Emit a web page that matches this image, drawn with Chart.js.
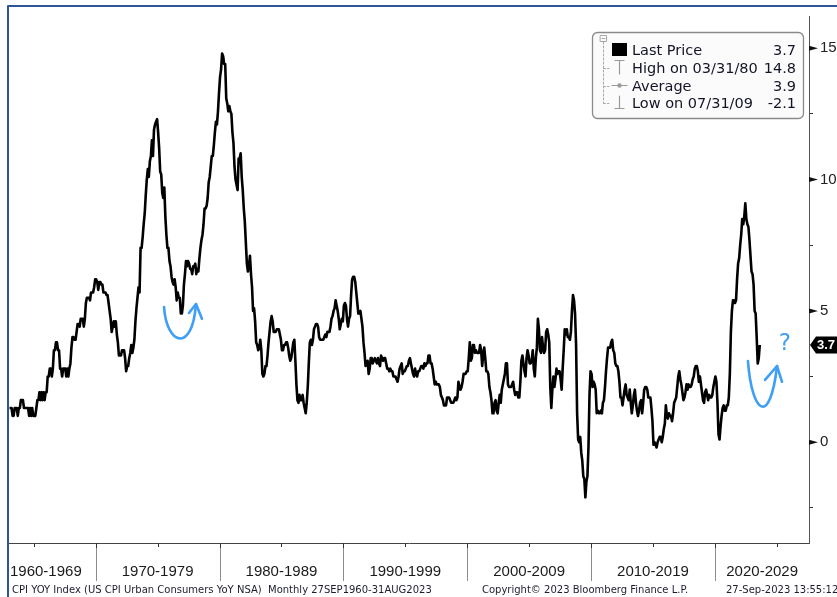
<!DOCTYPE html>
<html>
<head>
<meta charset="utf-8">
<script src="https://cdn.jsdelivr.net/npm/chart.js@4.4.0/dist/chart.umd.min.js"></script>
<style>
  body { margin: 0; background: #fff; }
  canvas { display: block; }
</style>
</head>
<body>
<canvas id="myChart" width="837" height="597"></canvas>
<script>
// US CPI YoY (NSA), monthly - visible window starts Jan 1963
var startYear = 1963;

var cpi1960s = [
  1.3, 1.3, 1.3, 1.0, 1.0, 1.3, 1.3, 1.3, 1.0, 1.3, 1.3, 1.6,
  1.6, 1.6, 1.3, 1.3, 1.3, 1.3, 1.3, 1.0, 1.3, 1.0, 1.3, 1.0,
  1.0, 1.0, 1.3, 1.6, 1.6, 1.9, 1.6, 1.9, 1.6, 1.9, 1.6, 1.9,
  1.9, 2.5, 2.5, 2.8, 2.8, 2.5, 2.8, 3.5, 3.5, 3.8, 3.8, 3.5,
  3.5, 2.8, 2.8, 2.5, 2.8, 2.8, 2.8, 2.5, 2.8, 2.5, 2.8, 3.0,
  3.6, 4.0, 4.0, 3.9, 3.9, 4.2, 4.5, 4.5, 4.4, 4.7, 4.7, 4.7,
  4.4, 4.7, 5.3, 5.5, 5.5, 5.5, 5.4, 5.7, 5.7, 5.7, 5.9, 6.2
];
var cpi1970s = [
  6.2, 6.1, 5.8, 6.1, 6.1, 6.0, 6.0, 5.7, 5.7, 5.7, 5.6, 5.6,
  5.3, 5.0, 4.7, 4.2, 4.4, 4.6, 4.4, 4.6, 4.1, 3.8, 3.3, 3.3,
  3.3, 3.5, 3.5, 3.5, 3.2, 2.7, 2.9, 2.9, 3.2, 3.4, 3.7, 3.4,
  3.6, 3.9, 4.6, 5.1, 5.5, 5.9, 5.7, 7.4, 7.4, 7.8, 8.3, 8.7,
  9.4, 10.0, 10.4, 10.1, 10.7, 10.9, 11.5, 10.9, 11.9, 12.1, 12.2, 12.3,
  11.8, 11.2, 10.3, 10.2, 9.5, 9.3, 9.7, 8.6, 7.9, 7.4, 7.4, 6.9,
  6.7, 6.3, 6.1, 6.0, 6.2, 5.9, 5.4, 5.7, 5.5, 5.5, 4.9, 4.9,
  5.2, 6.0, 6.4, 6.9, 6.7, 6.9, 6.8, 6.6, 6.6, 6.4, 6.7, 6.7,
  6.8, 6.4, 6.6, 6.5, 7.0, 7.4, 7.7, 7.9, 8.3, 8.9, 8.9, 9.0,
  9.3, 9.9, 10.1, 10.5, 10.9, 10.9, 11.3, 11.8, 12.2, 12.1, 12.6, 13.3
];
var cpi1980s = [
  13.9, 14.2, 14.8, 14.7, 14.4, 14.4, 13.1, 12.9, 12.6, 12.8, 12.6, 12.5,
  11.8, 11.4, 10.5, 10.0, 9.8, 9.6, 10.8, 10.8, 11.0, 10.1, 9.6, 8.9,
  8.4, 7.6, 6.8, 6.5, 6.7, 7.1, 6.4, 5.9, 5.0, 5.1, 4.6, 3.8,
  3.7, 3.5, 3.6, 3.9, 3.5, 2.6, 2.5, 2.6, 2.9, 2.9, 3.3, 3.8,
  4.2, 4.6, 4.8, 4.6, 4.2, 4.2, 4.2, 4.3, 4.3, 4.3, 4.1, 3.9,
  3.5, 3.5, 3.7, 3.7, 3.8, 3.8, 3.6, 3.3, 3.1, 3.2, 3.5, 3.8,
  3.9, 3.1, 2.2, 1.6, 1.5, 1.8, 1.6, 1.6, 1.8, 1.5, 1.3, 1.1,
  1.5, 2.1, 3.0, 3.8, 3.9, 3.7, 3.9, 4.3, 4.4, 4.5, 4.5, 4.4,
  4.0, 3.9, 3.9, 3.9, 3.9, 4.0, 4.1, 4.0, 4.2, 4.2, 4.2, 4.4,
  4.7, 4.8, 5.0, 5.1, 5.4, 5.2, 5.0, 4.7, 4.3, 4.5, 4.7, 4.6
];
var cpi1990s = [
  5.2, 5.3, 5.2, 4.7, 4.4, 4.7, 4.8, 5.6, 6.2, 6.3, 6.3, 6.1,
  5.7, 5.3, 4.9, 4.9, 5.0, 4.7, 4.4, 3.8, 3.4, 2.9, 3.0, 3.1,
  2.6, 2.8, 3.2, 3.2, 3.0, 3.1, 3.2, 3.1, 3.0, 3.2, 3.0, 2.9,
  3.3, 3.2, 3.1, 3.2, 3.2, 3.0, 2.8, 2.8, 2.7, 2.8, 2.7, 2.7,
  2.5, 2.5, 2.5, 2.4, 2.3, 2.5, 2.8, 2.9, 3.0, 2.6, 2.7, 2.7,
  2.8, 2.9, 2.9, 3.1, 3.2, 3.0, 2.8, 2.6, 2.5, 2.8, 2.6, 2.5,
  2.7, 2.7, 2.8, 2.9, 2.9, 2.8, 3.0, 2.9, 3.0, 3.0, 3.3, 3.3,
  3.0, 3.0, 2.8, 2.5, 2.2, 2.3, 2.2, 2.2, 2.2, 2.1, 1.8, 1.7,
  1.6, 1.4, 1.4, 1.4, 1.7, 1.7, 1.7, 1.6, 1.5, 1.5, 1.5, 1.6,
  1.7, 1.6, 1.7, 2.3, 2.1, 2.0, 2.1, 2.3, 2.6, 2.6, 2.6, 2.7
];
var cpi2000s = [
  2.7, 3.2, 3.8, 3.1, 3.2, 3.7, 3.7, 3.4, 3.5, 3.4, 3.4, 3.4,
  3.7, 3.5, 2.9, 3.3, 3.6, 3.2, 2.7, 2.7, 2.6, 2.1, 1.9, 1.6,
  1.1, 1.1, 1.5, 1.6, 1.2, 1.1, 1.5, 1.8, 1.5, 2.0, 2.2, 2.4,
  2.6, 3.0, 3.0, 2.2, 2.1, 2.1, 2.1, 2.2, 2.3, 2.0, 1.8, 1.9,
  1.9, 1.7, 1.7, 2.3, 3.1, 3.3, 3.0, 2.7, 2.5, 3.2, 3.5, 3.3,
  3.0, 3.0, 3.1, 3.5, 2.8, 2.5, 3.2, 3.6, 4.7, 4.3, 3.5, 3.4,
  4.0, 3.6, 3.4, 3.5, 4.2, 4.3, 4.1, 3.8, 2.1, 1.3, 2.0, 2.5,
  2.1, 2.4, 2.8, 2.6, 2.7, 2.7, 2.4, 2.0, 2.8, 3.5, 4.3, 4.1,
  4.3, 4.0, 4.0, 3.9, 4.2, 5.0, 5.6, 5.4, 4.9, 3.7, 1.1, 0.1,
  0.0, 0.2, -0.4, -0.7, -1.3, -1.4, -2.1, -1.5, -1.3, -0.2, 1.8, 2.7
];
var cpi2010s = [
  2.6, 2.1, 2.3, 2.2, 2.0, 1.1, 1.2, 1.1, 1.1, 1.2, 1.1, 1.5,
  1.6, 2.1, 2.7, 3.2, 3.6, 3.6, 3.6, 3.8, 3.9, 3.5, 3.4, 3.0,
  2.9, 2.9, 2.7, 2.3, 1.7, 1.7, 1.4, 1.7, 2.0, 2.2, 1.8, 1.7,
  1.6, 2.0, 1.5, 1.1, 1.4, 1.8, 2.0, 1.5, 1.2, 1.0, 1.2, 1.5,
  1.6, 1.1, 1.5, 2.0, 2.1, 2.1, 2.0, 1.7, 1.7, 1.7, 1.3, 0.8,
  -0.1, 0.0, -0.1, -0.2, 0.0, 0.1, 0.2, 0.2, 0.0, 0.2, 0.5, 0.7,
  1.4, 1.0, 0.9, 1.1, 1.0, 1.0, 0.8, 1.1, 1.5, 1.6, 1.7, 2.1,
  2.5, 2.7, 2.4, 2.2, 1.9, 1.6, 1.7, 1.9, 2.2, 2.0, 2.2, 2.1,
  2.1, 2.2, 2.4, 2.5, 2.8, 2.9, 2.9, 2.7, 2.3, 2.5, 2.2, 1.9,
  1.6, 1.5, 1.9, 2.0, 1.8, 1.6, 1.8, 1.7, 1.7, 1.8, 2.1, 2.3
];
var cpi2020s = [
  2.5, 2.3, 1.5, 0.3, 0.1, 0.6, 1.0, 1.3, 1.4, 1.2, 1.2, 1.4,
  1.4, 1.7, 2.6, 4.2, 5.0, 5.4, 5.4, 5.3, 5.4, 6.2, 6.8, 7.0,
  7.5, 7.9, 8.5, 8.3, 8.6, 9.1, 8.5, 8.3, 8.2, 7.7, 7.1, 6.5,
  6.4, 6.0, 5.0, 4.9, 4.0, 3.0, 3.2, 3.7
];

var decadeStarts = [1960, 1970, 1980, 1990, 2000, 2010, 2020];
var decadeLabels = ['1960-1969', '1970-1979', '1980-1989', '1990-1999', '2000-2009', '2010-2019', '2020-2029'];
var yTickValues = [-2.5, 0, 2.5, 5, 7.5, 10, 12.5, 15];

var legendNames = ['Last Price', 'High on 03/31/80', 'Average', 'Low on 07/31/09'];
var legendValues = ['3.7', '14.8', '3.9', '-2.1'];

var footerLeft = 'CPI YOY Index (US CPI Urban Consumers YoY NSA)  Monthly 27SEP1960-31AUG2023';
var footerMid = 'Copyright\u00a9 2023 Bloomberg Finance L.P.';
var footerRight = '27-Sep-2023 13:55:12';

// hand drawn "rebound?" arrows, in (year, value) units
var arrow1 = { start: [1975.52, 5.15], c1: [1975.68, 3.76], c2: [1977.78, 3.31], tip: [1978.10, 5.26], barbs: [[1977.53, 4.92], [1978.58, 4.70]] };
var arrow2 = { start: [2022.67, 3.09], c1: [2023.00, 1.06], c2: [2024.45, 0.58], tip: [2025.02, 2.90], barbs: [[2024.05, 2.37], [2025.42, 2.30]] };
var questionMark = [2025.66, 3.72];

var cpi = [].concat(cpi1960s, cpi1970s, cpi1980s, cpi1990s, cpi2000s, cpi2010s, cpi2020s);
var points = cpi.map(function (v, i) {
  return { x: startYear + (i + 0.5) / 12, y: v };
});

var sans = '"DejaVu Sans", Verdana, sans-serif';
var arial = '"Liberation Sans", Arial, sans-serif';
var blue = '#3f9ef5';

var decorations = {
  id: 'decorations',
  afterDraw: function (chart) {
    var ctx = chart.ctx;
    var area = chart.chartArea;
    var x = chart.scales.x;
    var y = chart.scales.y;
    ctx.save();

    // decade separators, 5y minor ticks and labels
    ctx.font = '15px ' + arial;
    ctx.textAlign = 'center';
    ctx.textBaseline = 'middle';
    decadeStarts.forEach(function (d, i) {
      if (d >= x.min) {
        var px = Math.round(x.getPixelForValue(d)) + 0.5;
        ctx.strokeStyle = '#8c8c8c';
        ctx.lineWidth = 1;
        ctx.beginPath(); ctx.moveTo(px, area.bottom); ctx.lineTo(px, 581); ctx.stroke();
        ctx.strokeStyle = '#333';
        ctx.beginPath(); ctx.moveTo(px, area.bottom); ctx.lineTo(px, area.bottom + 5); ctx.stroke();
      }
      if (d + 5 > x.min && d + 5 < x.max) {
        var pm = Math.round(x.getPixelForValue(d + 5)) + 0.5;
        ctx.strokeStyle = '#333';
        ctx.beginPath(); ctx.moveTo(pm, area.bottom); ctx.lineTo(pm, area.bottom + 4); ctx.stroke();
      }
      // centred on the decade, kept inside the plot edges
      var w = ctx.measureText(decadeLabels[i]).width;
      var cx = x.getPixelForValue(d + 5);
      cx = Math.max(cx, area.left + 1 + w / 2);
      cx = Math.min(cx, area.right - 11 - w / 2);
      ctx.fillStyle = '#1a1a1a';
      ctx.fillText(decadeLabels[i], cx, 572);
    });

    // major y ticks as small arrowheads
    ctx.fillStyle = '#111';
    [0, 5, 10, 15].forEach(function (v) {
      var py = y.getPixelForValue(v);
      ctx.beginPath();
      ctx.moveTo(area.right, py - 2.5);
      ctx.lineTo(area.right + 9, py);
      ctx.lineTo(area.right, py + 2.5);
      ctx.closePath();
      ctx.fill();
    });

    // last price tag
    var last = cpi[cpi.length - 1];
    var ly = y.getPixelForValue(last);
    ctx.fillStyle = '#000';
    ctx.beginPath();
    ctx.moveTo(area.right + 1, ly);
    ctx.lineTo(area.right + 7, ly - 8.5);
    ctx.lineTo(837, ly - 8.5);
    ctx.lineTo(837, ly + 8.5);
    ctx.lineTo(area.right + 7, ly + 8.5);
    ctx.closePath();
    ctx.fill();
    ctx.fillStyle = '#fff';
    ctx.font = 'bold 13px ' + arial;
    ctx.textAlign = 'left';
    ctx.fillText(last.toFixed(1), area.right + 8, ly + 0.5);

    // blue arrows
    ctx.strokeStyle = blue;
    ctx.lineWidth = 2.6;
    ctx.lineCap = 'round';
    ctx.lineJoin = 'round';
    [arrow1, arrow2].forEach(function (ar) {
      function P(p) { return [x.getPixelForValue(p[0]), y.getPixelForValue(p[1])]; }
      var s = P(ar.start), c1 = P(ar.c1), c2 = P(ar.c2), t = P(ar.tip);
      ctx.beginPath();
      ctx.moveTo(s[0], s[1]);
      ctx.bezierCurveTo(c1[0], c1[1], c2[0], c2[1], t[0], t[1]);
      ctx.stroke();
      var b1 = P(ar.barbs[0]), b2 = P(ar.barbs[1]);
      ctx.beginPath();
      ctx.moveTo(b1[0], b1[1]);
      ctx.lineTo(t[0], t[1]);
      ctx.lineTo(b2[0], b2[1]);
      ctx.stroke();
    });
    ctx.fillStyle = blue;
    ctx.font = '23px ' + sans;
    ctx.textAlign = 'center';
    ctx.fillText('?', x.getPixelForValue(questionMark[0]), y.getPixelForValue(questionMark[1]));

    // legend box
    ctx.beginPath();
    ctx.roundRect(592.5, 32.5, 211, 86, 5);
    ctx.fillStyle = '#fbfbfb';
    ctx.fill();
    ctx.strokeStyle = '#8a8a8a';
    ctx.lineWidth = 1.3;
    ctx.stroke();

    var rows = [50, 68, 86, 103];
    ctx.lineWidth = 1;
    ctx.strokeStyle = '#a8a8a8';
    ctx.strokeRect(600.5, 35.5, 6, 6);
    ctx.beginPath(); ctx.moveTo(602, 38.5); ctx.lineTo(605, 38.5); ctx.stroke();
    ctx.setLineDash([2, 2]);
    ctx.beginPath();
    ctx.moveTo(603.5, 42); ctx.lineTo(603.5, rows[3]);
    for (var r = 1; r < 4; r++) { ctx.moveTo(603.5, rows[r] + 0.5); ctx.lineTo(609, rows[r] + 0.5); }
    ctx.stroke();
    ctx.setLineDash([]);

    ctx.fillStyle = '#000';
    ctx.fillRect(612, 43, 15, 13);
    ctx.strokeStyle = '#9a9a9a';
    ctx.lineWidth = 1.2;
    ctx.beginPath();
    ctx.moveTo(615, 60.5); ctx.lineTo(624, 60.5);
    ctx.moveTo(619.5, 60.5); ctx.lineTo(619.5, 74);
    ctx.moveTo(612, 85.5); ctx.lineTo(627, 85.5);
    ctx.moveTo(619.5, 96); ctx.lineTo(619.5, 108.5);
    ctx.moveTo(615, 108.5); ctx.lineTo(624, 108.5);
    ctx.stroke();
    ctx.fillStyle = '#9a9a9a';
    ctx.beginPath(); ctx.arc(619.5, 85.5, 2.2, 0, Math.PI * 2); ctx.fill();

    ctx.font = '14.5px ' + sans;
    ctx.fillStyle = '#141428';
    ctx.textBaseline = 'middle';
    legendNames.forEach(function (name, i) {
      ctx.textAlign = 'left';
      ctx.fillText(name, 632, rows[i] + 1);
      ctx.textAlign = 'right';
      ctx.fillText(legendValues[i], 796, rows[i] + 1);
    });

    // footer
    ctx.font = '10px ' + sans;
    ctx.fillStyle = '#1c1c30';
    ctx.textAlign = 'left';
    ctx.fillText(footerLeft, 12, 590);
    ctx.fillText(footerMid, 482, 590);
    ctx.fillText(footerRight, 726, 590);

    // blue frame
    ctx.strokeStyle = '#2f5597';
    ctx.lineWidth = 2;
    ctx.beginPath();
    ctx.moveTo(8, 597); ctx.lineTo(8, 6); ctx.lineTo(837, 6);
    ctx.stroke();

    ctx.restore();
  }
};

var ctx = document.getElementById('myChart').getContext('2d');
var myChart = new Chart(ctx, {
  type: 'line',
  data: {
    datasets: [{
      label: 'CPI YOY Index',
      data: points,
      borderColor: '#000',
      borderWidth: 2.6,
      pointRadius: 0,
      tension: 0,
      borderJoinStyle: 'round'
    }]
  },
  options: {
    responsive: false,
    animation: false,
    layout: { padding: { left: 9, top: 7, right: 0, bottom: 0 } },
    plugins: {
      legend: { display: false },
      tooltip: { enabled: false }
    },
    scales: {
      x: {
        type: 'linear',
        min: 1963,
        max: 2027.6,
        ticks: { display: false },
        grid: { display: false },
        border: { display: true, color: '#444', width: 1 },
        afterFit: function (scale) { scale.height = 54; }
      },
      y: {
        position: 'right',
        min: -3.84,
        max: 16.23,
        afterBuildTicks: function (scale) {
          scale.ticks = yTickValues.map(function (v) { return { value: v }; });
        },
        ticks: {
          padding: 7,
          color: '#222',
          font: { family: arial, size: 15 },
          callback: function (v) { return v % 5 === 0 ? String(v) : ''; }
        },
        grid: { drawOnChartArea: false, drawTicks: true, tickLength: 4, color: '#333' },
        border: { display: true, color: '#555', width: 1 },
        afterFit: function (scale) { scale.width = 28; }
      }
    }
  },
  plugins: [decorations]
});
</script>
</body>
</html>
